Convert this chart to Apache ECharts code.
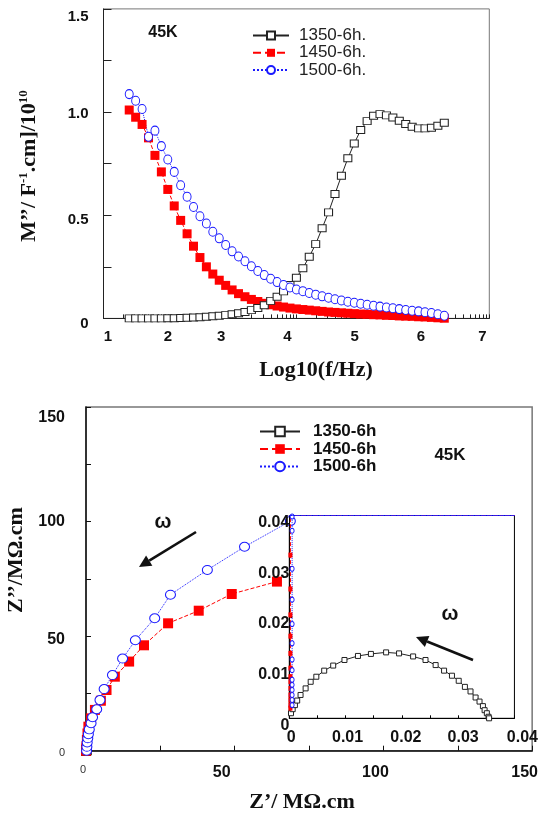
<!DOCTYPE html>
<html><head><meta charset="utf-8">
<script src="https://cdn.jsdelivr.net/npm/echarts@6/dist/echarts.min.js"></script>
<style>html,body{margin:0;padding:0;background:#fff}#c{width:541px;height:816px}</style>
</head><body><div id="c"></div>
<script>
// ---------- Top chart: M'' vs log10(f) ----------
const logF = [1.4,1.5,1.6,1.7,1.8,1.9,2.0,2.1,2.2,2.3,2.4,2.5,2.6,2.7,2.8,2.9,3.0,3.1,3.2,3.3,3.4,3.5,3.6,3.7,3.8,3.9,4.0,4.1,4.2,4.3,4.4,4.5,4.6,4.7,4.8,4.9,5.0,5.1,5.2,5.3,5.4,5.5,5.6,5.7,5.8,5.9,6.0,6.1,6.2,6.3];
const m1350 = [0,0,0,0,0,0,
  0.001,0.001,0.002,0.003,0.004,0.006,0.008,0.010,0.013,0.016,
  0.020,0.025,0.031,0.040,0.050,0.064,0.085,0.105,0.131,0.162,
  0.197,0.243,0.299,0.360,0.437,0.514,0.603,0.691,0.776,0.848,
  0.913,0.956,0.982,0.990,0.984,0.974,0.958,0.942,0.929,0.921,
  0.921,0.924,0.934,0.948];
const m1450 = [1.01,0.975,0.94,0.875,0.79,0.71,
  0.625,0.545,0.475,0.41,0.35,0.295,0.25,0.215,0.185,0.16,
  0.138,0.12,0.105,0.092,0.082,0.073,0.066,0.06,0.055,0.05,
  0.046,0.043,0.04,0.037,0.034,0.031,0.029,0.027,0.025,0.023,
  0.021,0.02,0.018,0.017,0.015,0.014,0.012,0.011,0.01,0.008,
  0.007,0.005,0.003,0.001];
const m1500 = [1.087,1.055,1.015,0.88,0.91,0.835,
  0.77,0.71,0.645,0.59,0.54,0.495,0.46,0.42,0.388,0.356,
  0.325,0.30,0.277,0.253,0.23,0.21,0.192,0.176,0.162,0.150,
  0.140,0.132,0.123,0.115,0.107,0.100,0.093,0.087,0.081,0.076,
  0.071,0.066,0.061,0.057,0.053,0.049,0.045,0.041,0.037,0.034,
  0.030,0.026,0.020,0.013];
const topXLabels = [1,2,3,4,5,6,7];
const topYLabels = [0,0.5,1.0,1.5];
const topNames = ['1350-6h.','1450-6h.','1500-6h.'];

// ---------- Bottom chart: Nyquist Z'' vs Z' ----------
const zre1450 = [0.0,0.1,0.2,0.3,0.5,0.8,1.7,3.0,5.0,6.9,9.7,14.5,19.5,27.6,37.9,49.0,64.2];
const zim1450 = [0.0,1.0,2.0,4.7,7.5,10.5,14.1,17.8,21.8,26.5,32.3,38.9,46.0,55.6,61.1,68.4,73.8];
const zre1500 = [0.2,0.3,0.4,0.6,0.8,1.1,1.7,2.2,3.6,4.7,6.1,8.9,12.3,16.6,23.1,28.4,40.8,53.3,68.7];
const zim1500 = [0.0,1.7,3.6,5.4,7.2,9.3,12.0,14.6,18.1,22.1,26.9,33.0,40.2,48.2,57.8,68.1,78.9,89.0,100.2];
// inset (high-frequency region)
const izre1350 = [0.0003,0.0006,0.0010,0.0014,0.0020,0.0029,0.0038,0.0048,0.0062,0.0078,0.0098,0.0122,0.0145,0.0172,0.0195,0.0220,0.0242,0.0260,0.0275,0.0289,0.0301,0.0312,0.0322,0.0331,0.0338,0.0344,0.0347,0.0351,0.0354,0.0355];
const izim1350 = [0.0010,0.0018,0.0026,0.0035,0.0046,0.0059,0.0072,0.0082,0.0094,0.0104,0.0115,0.0123,0.0127,0.0130,0.0128,0.0122,0.0115,0.0105,0.0094,0.0084,0.0074,0.0062,0.0053,0.0041,0.0033,0.0024,0.0016,0.0010,0.0003,0.0];
const izre1450 = [0.0002,0.0002,0.0002,0.0002,0.0002,0.0002,0.0002,0.0002,0.0002,0.0002,0.0002,0.0002,0.0002,0.0002];
const izim1450 = [0.0020,0.0026,0.0036,0.0046,0.0059,0.0072,0.0082,0.0099,0.0128,0.0162,0.0204,0.0255,0.0322,0.0460];
const izre1500 = [0.0005,0.0005,0.0005,0.0005,0.0005,0.0005,0.0005,0.0005,0.0005,0.0005,0.0005,0.0005,0.0005,0.0005];
const izim1500 = [0.0026,0.0036,0.0046,0.0056,0.0066,0.0076,0.0095,0.0116,0.0148,0.0186,0.0234,0.0295,0.0370,0.0398];
const botXLabels = [0,50,100,150];
const botYLabels = [0,50,100,150];
const insetLabels = [0,0.01,0.02,0.03,0.04];
const botNames = ['1350-6h','1450-6h','1500-6h'];

const SANS = 'Liberation Sans', SERIF = 'Liberation Serif';
const BLUE = '#1a1aff', RED = '#ff0000', BLK = '#222';

function makeLabels(values, fmt, dx, dy, base, per) {
  const rich = {};
  values.forEach((v, i) => {
    const sx = dx[i] || 0, sy = dy[i] || 0;
    rich['k' + i] = Object.assign({}, base, (per && per[i]) || {}, {
      padding: [Math.max(sy, 0) * 2, Math.max(-sx, 0) * 2, Math.max(-sy, 0) * 2, Math.max(sx, 0) * 2]
    });
  });
  return {
    customValues: values,
    formatter: (v) => { const i = values.findIndex(u => Math.abs(u - v) < 1e-9); return i < 0 ? '' : '{k' + i + '|' + fmt(v) + '}'; },
    rich
  };
}
const boldBase = (s) => ({fontFamily: SANS, fontWeight: 'bold', fontSize: s, color: '#111'});

// log-style tick positions for the top x axis
const topTicks = [];
topXLabels.forEach(d => {
  if (d === topXLabels[topXLabels.length - 1]) { topTicks.push(d); return; }
  for (let n = 1; n <= 9; n++) topTicks.push(d + Math.log10(n));
});

function arrow(x1, y1, x2, y2) {
  const a = Math.atan2(y2 - y1, x2 - x1), L = 12, W = 6;
  const bx = x2 - L * Math.cos(a), by = y2 - L * Math.sin(a);
  return [
    {type: 'line', shape: {x1: x1, y1: y1, x2: bx, y2: by}, style: {stroke: '#111', lineWidth: 2.6}, z: 20},
    {type: 'polygon', shape: {points: [[x2, y2], [bx + W * Math.sin(a), by - W * Math.cos(a)], [bx - W * Math.sin(a), by + W * Math.cos(a)]]}, style: {fill: '#111'}, z: 20}
  ];
}

const sq = (c, s) => ({symbol: 'rect', symbolSize: s, itemStyle: {color: c}, lineStyle: {color: c, width: 1, type: 'dashed'}});
const opnSq = (s) => ({symbol: 'rect', symbolSize: s, itemStyle: {color: '#fff', borderColor: BLK, borderWidth: 1}, lineStyle: {color: BLK, width: 1}});
const opnCi = (s) => ({symbol: 'circle', symbolSize: s, itemStyle: {color: '#fff', borderColor: BLUE, borderWidth: 1}, lineStyle: {color: BLUE, width: 1, type: 'dotted'}});
const pairs = (a, b) => a.map((x, i) => [x, b[i]]);

const option = {
  animation: false,
  backgroundColor: '#fff',
  grid: [
    {left: 103.5, top: 8.9, width: 385.8, height: 309.5, show: true, borderColor: '#777', borderWidth: 1, backgroundColor: 'transparent'},
    {left: 86, top: 407, width: 447.6, height: 343.7, show: true, borderColor: '#777', borderWidth: 1.5, backgroundColor: 'transparent'},
    {left: 289.3, top: 515.5, width: 226.4, height: 202.8, show: true, borderColor: '#000', borderWidth: 1, backgroundColor: '#fff', z: 4}
  ],
  xAxis: [
    {gridIndex: 0, type: 'value', min: 1, max: 7, interval: 1,
      axisLine: {lineStyle: {color: '#222', width: 1}},
      axisTick: {inside: true, length: 4, customValues: topTicks, lineStyle: {color: '#222'}},
      splitLine: {show: false},
      axisLabel: Object.assign({margin: 11}, makeLabels(topXLabels, v => String(v), [4.5, 0, -11, -9, -6, -4, -7], [], boldBase(15)))},
    {gridIndex: 1, type: 'value', min: 0, max: 150, interval: 25,
      axisLine: {lineStyle: {color: '#111', width: 1.5}},
      axisTick: {inside: true, length: 5, lineStyle: {color: '#111'}},
      splitLine: {show: false},
      axisLabel: Object.assign({margin: 14}, makeLabels(botXLabels, v => String(v), [-3, -13, -8, -7.5], [], boldBase(16),
        [{fontSize: 11, fontWeight: 'normal', color: '#333'}]))},
    {gridIndex: 2, type: 'value', min: 0, max: 0.04, interval: 0.005, z: 6,
      axisLine: {lineStyle: {color: '#000', width: 1}},
      axisTick: {inside: true, length: 3, lineStyle: {color: '#000'}},
      splitLine: {show: false},
      axisLabel: Object.assign({margin: 11}, makeLabels(insetLabels, v => v === 0 ? '0' : v.toFixed(2), [2, 2, 4, 5, 8], [], boldBase(16)))},
    {gridIndex: 2, type: 'value', position: 'top', min: 0, max: 0.04, z: 6,
      axisLine: {lineStyle: {color: RED, width: 1, type: 'dashed'}}, axisTick: {show: false}, axisLabel: {show: false}, splitLine: {show: false}},
    {gridIndex: 2, type: 'value', position: 'top', offset: 0, min: 0, max: 0.04, z: 7,
      axisLine: {lineStyle: {color: BLUE, width: 1, type: 'dotted'}}, axisTick: {show: false}, axisLabel: {show: false}, splitLine: {show: false}}
  ],
  yAxis: [
    {gridIndex: 0, type: 'value', min: 0, max: 1.5, interval: 0.25,
      axisLine: {lineStyle: {color: '#222', width: 1}},
      axisTick: {inside: true, length: 8, lineStyle: {color: '#222'}},
      splitLine: {show: false},
      axisLabel: Object.assign({margin: 15}, makeLabels(topYLabels, v => v === 0 ? '0' : v.toFixed(1), [], [5, 5, 2, 8], boldBase(15)))},
    {gridIndex: 1, type: 'value', min: 0, max: 150, interval: 25,
      axisLine: {lineStyle: {color: '#111', width: 1.5}},
      axisTick: {inside: true, length: 5, lineStyle: {color: '#111'}},
      splitLine: {show: false},
      axisLabel: Object.assign({margin: 21}, makeLabels(botYLabels, v => String(v), [], [2, 3.5, 0, 11], boldBase(16),
        [{fontSize: 11, fontWeight: 'normal', color: '#333'}]))},
    {gridIndex: 2, type: 'value', min: 0, max: 0.04, interval: 0.01, z: 6,
      axisLine: {lineStyle: {color: '#000', width: 1}},
      axisTick: {inside: true, length: 3, lineStyle: {color: '#000'}},
      splitLine: {show: false},
      axisLabel: Object.assign({margin: 0}, makeLabels(insetLabels, v => v === 0 ? '0' : v.toFixed(2), [], [7, 7, 7, 7, 7], boldBase(16)))}
  ],
  legend: [
    {data: topNames, orient: 'vertical', left: 252, top: 27, padding: 0, itemGap: 0.3, itemWidth: 36, itemHeight: 10,
      selectedMode: false, textStyle: {fontFamily: SANS, fontSize: 17, color: '#222', lineHeight: 15, padding: [0, 0, 0, 5]}},
    {data: botNames, orient: 'vertical', left: 259, top: 423, padding: 0, itemGap: 0.5, itemWidth: 40, itemHeight: 12,
      selectedMode: false, textStyle: {fontFamily: SANS, fontSize: 17, fontWeight: 'bold', color: '#111', lineHeight: 17, padding: [0, 0, 0, 8]}}
  ],
  series: [
    Object.assign({name: '1450-6h.', type: 'line', xAxisIndex: 0, yAxisIndex: 0, clip: false, data: pairs(logF, m1450), z: 3}, sq(RED, 9)),
    Object.assign({name: '1350-6h.', type: 'line', xAxisIndex: 0, yAxisIndex: 0, clip: false, data: pairs(logF, m1350), z: 3}, opnSq([8, 7])),
    Object.assign({name: '1500-6h.', type: 'line', xAxisIndex: 0, yAxisIndex: 0, clip: false, data: pairs(logF, m1500), z: 3}, opnCi([8, 9])),

    Object.assign({name: '1350-6h', type: 'line', xAxisIndex: 1, yAxisIndex: 1, clip: false, data: pairs(izre1350, izim1350), z: 5}, opnSq(9)),
    Object.assign({name: '1450-6h', type: 'line', xAxisIndex: 1, yAxisIndex: 1, clip: false, data: pairs(zre1450, zim1450), z: 5}, sq(RED, 10)),
    Object.assign({name: '1500-6h', type: 'line', xAxisIndex: 1, yAxisIndex: 1, clip: false, data: pairs(zre1500, zim1500), z: 5}, opnCi([10, 9])),

    Object.assign({name: '1350-6h', type: 'line', xAxisIndex: 2, yAxisIndex: 2, clip: true, data: pairs(izre1350, izim1350), z: 6}, opnSq(5)),
    Object.assign({name: '1450-6h', type: 'line', xAxisIndex: 2, yAxisIndex: 2, clip: true, data: pairs(izre1450, izim1450), z: 6}, sq(RED, [4, 5])),
    Object.assign({name: '1500-6h', type: 'line', xAxisIndex: 2, yAxisIndex: 2, clip: true, data: pairs(izre1500, izim1500), z: 6}, opnCi([4, 5]))
  ].map(s => Object.assign(s, {emphasis: {disabled: true}, silent: true, showAllSymbol: true})),
  graphic: [
    {type: 'text', x: 163, y: 33, style: {text: '45K', font: 'bold 16px "Liberation Sans"', fill: '#111', align: 'center', verticalAlign: 'middle'}},
    {type: 'text', x: 316, y: 370, style: {text: 'Log10(f/Hz)', font: 'bold 22px "Liberation Serif"', fill: '#111', align: 'center', verticalAlign: 'middle'}},
    {type: 'text', x: 29, y: 166, rotation: Math.PI / 2,
      style: {text: 'M’’/ F{s|-1}.cm]/10{s|10}', font: 'bold 22px "Liberation Serif"', fill: '#111', align: 'center', verticalAlign: 'middle', lineHeight: 24,
        rich: {s: {fontFamily: SERIF, fontWeight: 'bold', fontSize: 13, verticalAlign: 'top', lineHeight: 24}}}},
    {type: 'text', x: 450, y: 455, style: {text: '45K', font: 'bold 17px "Liberation Sans"', fill: '#111', align: 'center', verticalAlign: 'middle'}},
    {type: 'text', x: 302, y: 802, style: {text: 'Z’/ MΩ.cm', font: 'bold 22px "Liberation Serif"', fill: '#111', align: 'center', verticalAlign: 'middle'}},
    {type: 'text', x: 16, y: 560, rotation: Math.PI / 2, style: {text: 'Z’’/MΩ.cm', font: 'bold 22px "Liberation Serif"', fill: '#111', align: 'center', verticalAlign: 'middle'}},
    {type: 'text', x: 163, y: 522, z: 20, style: {text: 'ω', font: 'bold 20px "Liberation Sans"', fill: '#111', align: 'center', verticalAlign: 'middle'}},
    {type: 'text', x: 450, y: 614, z: 20, style: {text: 'ω', font: 'bold 20px "Liberation Sans"', fill: '#111', align: 'center', verticalAlign: 'middle'}}
  ].concat(arrow(196, 532, 139, 567)).concat(arrow(473, 660, 416, 637))
};

const chart = echarts.init(document.getElementById('c'), null, {renderer: 'canvas'});
chart.setOption(option);
</script>
</body></html>
